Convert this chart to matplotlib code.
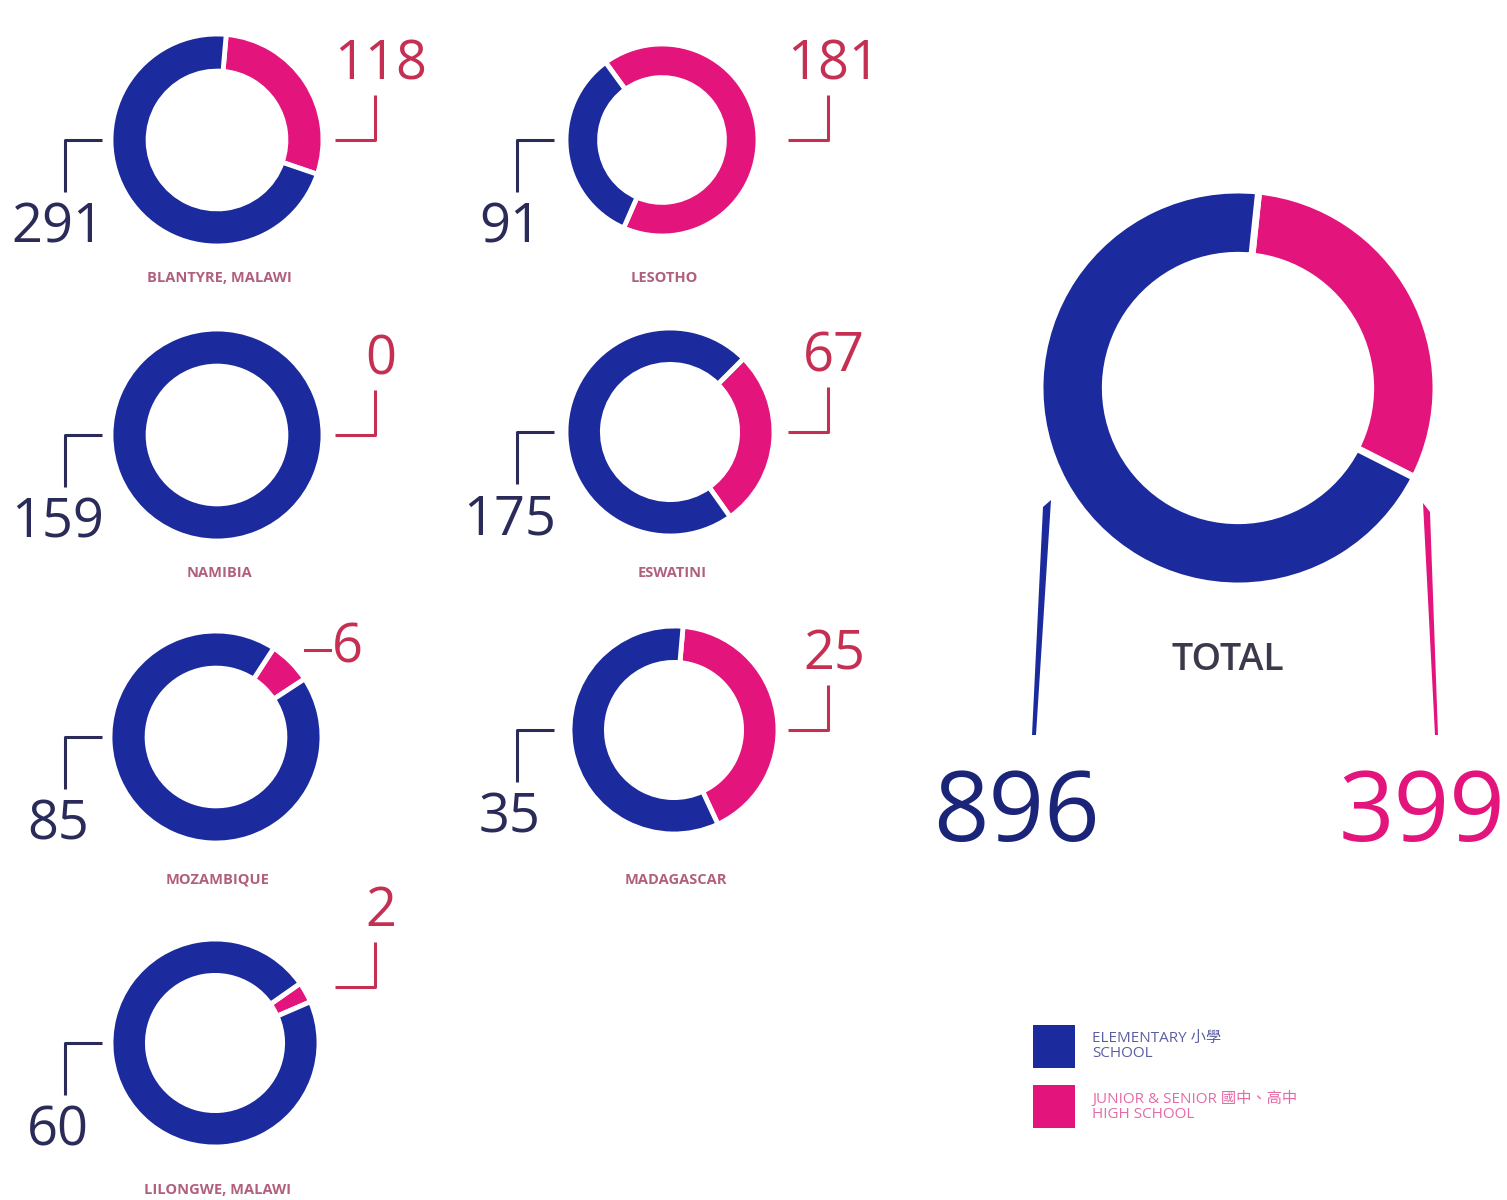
import matplotlib
matplotlib.use("Agg")
import matplotlib.pyplot as plt

plt.rcParams['font.family'] = ['Open Sans', 'Noto Sans CJK TC', 'DejaVu Sans']

# data
places = ["BLANTYRE, MALAWI", "LESOTHO", "NAMIBIA", "ESWATINI",
          "MOZAMBIQUE", "MADAGASCAR", "LILONGWE, MALAWI"]
elementary = [291, 91, 159, 175, 85, 35, 60]
high_school = [118, 181, 0, 67, 6, 25, 2]
total_elementary = 896
total_high = 399
legend_labels = ["ELEMENTARY 小學\nSCHOOL", "JUNIOR & SENIOR 國中、高中\nHIGH SCHOOL"]

# layout (pixel space, y measured from top)
centers = [(217, 140), (662, 140), (217, 435), (670, 432),
           (216, 737), (674, 730), (215, 1043)]
radii = [106, 96, 106, 104, 106, 104, 104]
pink_start = [5, -36, 0, 45, 33, 5, 55]   # degrees clockwise from 12 o'clock
label_rows = [278, 278, 573, 573, 880, 880, 1190]
right_raise = [0, 0, 0, 0, 0, 0, 56]      # lift of the right bracket

BLUE = "#1b2a9c"
PINK = "#e3157c"
NAVY_TXT = "#2a2b58"
RED_TXT = "#c42f52"
LABEL_TXT = "#b0607e"

W, H = 1507, 1200
fig = plt.figure(figsize=(W / 100, H / 100), dpi=100)
ax = fig.add_axes([0, 0, 1, 1])


def Y(y):
    return H - y


def donut(cx, cy, r, hs, el, start, ring=0.35, lw=3.5):
    vals, cols = [], []
    for v, c in ((hs, PINK), (el, BLUE)):
        if v > 0:
            vals.append(v)
            cols.append(c)
    ax.pie(vals, colors=cols, center=(cx, Y(cy)), radius=r,
           startangle=90 - start, counterclock=False,
           wedgeprops=dict(width=r * ring, edgecolor="white", linewidth=lw))


for i, name in enumerate(places):
    cx, cy = centers[i]
    r = radii[i]
    donut(cx, cy, r, high_school[i], elementary[i], pink_start[i])
    col = 0 if cx < 400 else 1
    lx = (65, 517)[col]
    rx = (375, 828)[col]
    # left bracket + elementary count
    ax.plot([lx, lx, lx + 37], [Y(cy + 52), Y(cy), Y(cy)],
            color=NAVY_TXT, lw=2.2, solid_capstyle="butt")
    ax.text(lx - 7, Y(cy + 88), str(elementary[i]), color=NAVY_TXT,
            fontsize=39, ha="center", va="center")
    # right bracket + high school count
    if name == "MOZAMBIQUE":
        ax.plot([305, 330], [Y(cy - 87), Y(cy - 87)], color=RED_TXT, lw=2.2)
        ax.text(332, Y(cy - 89), str(high_school[i]), color=RED_TXT,
                fontsize=39, ha="left", va="center")
    else:
        by = cy - right_raise[i]
        ax.plot([rx - 40, rx, rx], [Y(by), Y(by), Y(by - 45)],
                color=RED_TXT, lw=2.2, solid_capstyle="butt")
        ax.text(rx + 6, Y(by - 75), str(high_school[i]), color=RED_TXT,
                fontsize=39, ha="center", va="center")
    ax.text(cx + 2, Y(label_rows[i]), name, color=LABEL_TXT, fontsize=10.5,
            fontweight="bold", ha="center", va="center")

# total donut
donut(1238, 388, 198, total_high, total_elementary, 6, ring=0.33, lw=5)
ax.fill([1043, 1051, 1036, 1032], [Y(507), Y(500), Y(735), Y(735)],
        color=BLUE, lw=0)
ax.fill([1423, 1430, 1438, 1435], [Y(503), Y(512), Y(735), Y(735)],
        color=PINK, lw=0)
ax.text(1228, Y(660), "TOTAL", color="#3a3a4a", fontsize=27,
        fontweight="semibold", ha="center", va="center")
ax.text(1017, Y(815), str(total_elementary), color="#1a2478",
        fontsize=70, ha="center", va="center")
ax.text(1422, Y(815), str(total_high), color=PINK,
        fontsize=70, ha="center", va="center")

# legend
for j, (lab, c, tc) in enumerate(zip(legend_labels, (BLUE, PINK),
                                     ("#5a5fa0", "#e56aa6"))):
    y0 = 1025 + j * 60
    ax.add_patch(plt.Rectangle((1033, Y(y0 + 43)), 42, 43, color=c, lw=0))
    ax.text(1092, Y(y0 + 21), lab, color=tc, fontsize=11,
            ha="left", va="center", linespacing=1.0)

ax.set_xlim(0, W)
ax.set_ylim(0, H)
ax.set_aspect("equal")
ax.axis("off")
fig.savefig("out.png", dpi=100, facecolor="white")
